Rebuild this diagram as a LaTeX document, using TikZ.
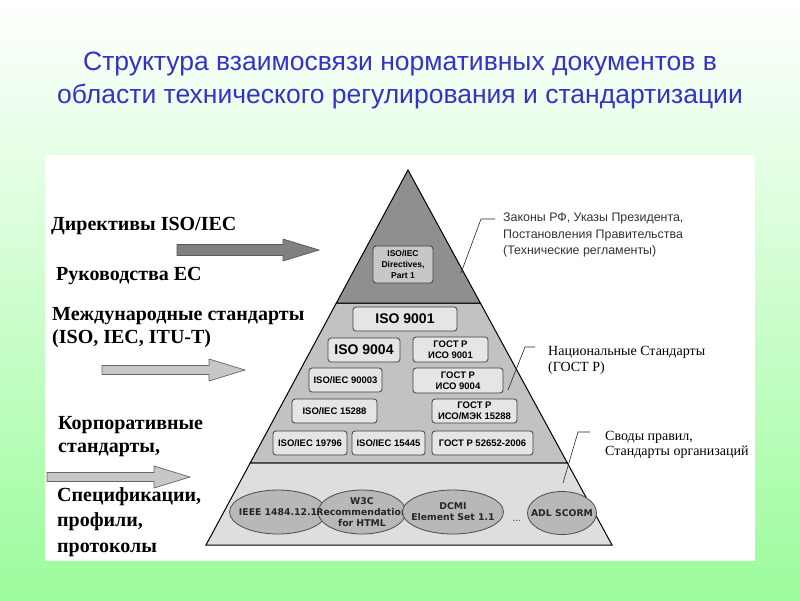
\documentclass[tikz,border=0pt]{standalone}
\usepackage{fontspec}
\setmainfont{Liberation Serif}
\newfontfamily\arialfont{Liberation Sans}
\newfontfamily\verdfont{DejaVu Sans}
\usetikzlibrary{calc,shapes.geometric}
\definecolor{titleblue}{RGB}{51,51,204}
\definecolor{bggreen}{RGB}{156,252,156}
\definecolor{topgray}{RGB}{143,143,143}
\definecolor{midgray}{RGB}{194,194,194}
\definecolor{lowgray}{RGB}{222,222,222}
\definecolor{boxgray}{RGB}{229,229,229}
\definecolor{ellgray}{RGB}{184,184,184}
\def\fatarrow[#1](#2:#3:#4:#5){\draw[#1] (#2,#4-#5) -- (#3-36,#4-#5) -- (#3-36,#4-11) -- (#3,#4) -- (#3-36,#4+11) -- (#3-36,#4+#5) -- (#2,#4+#5) -- cycle;}
\tikzset{
  stdbox/.style={draw=black!75, fill=boxgray, rounded corners=3pt, line width=0.8pt, inner sep=0pt, align=center, font=\arialfont\bfseries\fontsize{9.5}{10.5}\selectfont},
  bigbox/.style={stdbox, font=\arialfont\bfseries\fontsize{14}{16}\selectfont},
  specell/.style={ellipse, draw=black!70, fill=ellgray, line width=0.8pt, inner sep=0pt, minimum height=44pt},
  elltext/.style={inner sep=0pt, align=center, font=\verdfont\bfseries\fontsize{9.3}{11}\selectfont, text=black!85},
  sidelabel/.style={anchor=west, inner sep=0pt, align=left, font=\bfseries\fontsize{20}{23}\selectfont},
  calloutline/.style={line width=0.6pt, black!85}
}

\begin{document}
\begin{tikzpicture}[x=1pt, y=-1pt]
		%%%%% START %%%%%
		\useasboundingbox (0,0) rectangle (800,600);
		\shade[top color=white, bottom color=bggreen] (0,0) rectangle (800,600);
		\fill[white] (45,155) rectangle (755,561);
		
		\node[font=\arialfont\fontsize{26.5}{33}\selectfont, text=titleblue, align=center] (title) at (400,80) {Структура взаимосвязи нормативных документов в\\области технического регулирования и стандартизации};
		
		% pyramid
		\coordinate (apex) at (408,170);
		\coordinate (bl) at (206,545);
		\coordinate (br) at (612,545);
		\coordinate (ml1) at ($(apex)!0.355!(bl)$);
		\coordinate (mr1) at ($(apex)!0.355!(br)$);
		\coordinate (ml2) at ($(apex)!0.781!(bl)$);
		\coordinate (mr2) at ($(apex)!0.781!(br)$);
		\draw[line width=1pt, fill=lowgray] (ml2) -- (bl) -- (br) -- (mr2) -- cycle;
		\draw[line width=1pt, fill=midgray] (ml1) -- (ml2) -- (mr2) -- (mr1) -- cycle;
		\draw[line width=1pt, fill=topgray] (apex) -- (ml1) -- (mr1) -- cycle;
		
		\node[stdbox, fill=black!22, minimum width=60pt, minimum height=37pt, font=\arialfont\bfseries\fontsize{8.5}{11}\selectfont] (directives) at (403,264.5) {ISO/IEC\\Directives,\\Part 1};
		
		\node[bigbox, minimum width=104pt, minimum height=24pt] (iso9001) at (405,319) {ISO 9001};
		\node[bigbox, minimum width=72pt, minimum height=24pt] (iso9004) at (364,350) {ISO 9004};
		\node[stdbox, minimum width=75pt, minimum height=25pt] (gost9001) at (450.5,349.5) {ГОСТ Р\\ИСО 9001};
		\node[stdbox, minimum width=73pt, minimum height=24pt] (iso90003) at (345.5,380) {ISO/IEC 90003};
		\node[stdbox, minimum width=90pt, minimum height=25pt] (gost9004) at (458,380.5) {ГОСТ Р\\ИСО 9004};
		\node[stdbox, minimum width=85pt, minimum height=24pt] (iso15288) at (334.5,411) {ISO/IEC 15288};
		\node[stdbox, minimum width=85pt, minimum height=24pt] (gost15288) at (474.5,411) {ГОСТ Р\\ИСО/МЭК 15288};
		\node[stdbox, minimum width=74pt, minimum height=24pt] (iso19796) at (310,443) {ISO/IEC 19796};
		\node[stdbox, minimum width=73pt, minimum height=24pt] (iso15445) at (388.5,443) {ISO/IEC 15445};
		\node[stdbox, minimum width=101pt, minimum height=24pt] (gost52652) at (482.5,443) {ГОСТ Р 52652-2006};
		
		\node[specell, minimum width=97pt] (ieee) at (278,512) {};
		\node[elltext] (ieeetxt) at (ieee) {IEEE 1484.12.1};
		\node[specell, minimum width=88pt] (w3c) at (362,512) {};
		\node[elltext] (w3ctxt) at (w3c) {W3C\\Recommendation\\for HTML};
		\node[specell, minimum width=101pt] (dcmi) at (453,512) {};
		\node[elltext] (dcmitxt) at (dcmi) {DCMI\\Element Set 1.1};
		\node[font=\verdfont\fontsize{9}{10}\selectfont, text=black!80] (dots) at (517,521) {...};
		\node[specell, minimum width=69pt, minimum height=43pt] (adl) at (562,513) {};
		\node[elltext] (adltxt) at (adl) {ADL SCORM};
		
		% left side
		\node[sidelabel] (directivy) at (51,226) {Директивы ISO/IEC};
		\node[sidelabel] (rukovod) at (56,276) {Руководства ЕС};
		\node[sidelabel] (mezhdun) at (52,316) {Международные стандарты};
		\node[sidelabel] (isoiec) at (52,339) {(ISO, IEC, ITU-T)};
		\node[sidelabel] (korpor) at (58,437) {Корпоративные\\стандарты,};
		\node[sidelabel, font=\bfseries\fontsize{20}{25.5}\selectfont] (specif) at (57,522) {Спецификации,\\профили,\\протоколы};
		
		\fatarrow[fill=black!50, draw=black!65, line width=0.7pt](177:319:250:5.5)
		\fatarrow[fill=black!22, draw=black!60, line width=0.7pt](102:245:370:4.5)
		\fatarrow[fill=black!22, draw=black!60, line width=0.7pt](47:190:477:4.5)
		
		% callouts
		\node[anchor=north west, inner sep=0pt, align=left, text=black!80, font=\arialfont\fontsize{12.4}{16.5}\selectfont] (zakony) at (503,213) {Законы РФ, Указы Президента,\\Постановления Правительства\\(Технические регламенты)};
		\coordinate (zakpt) at (461,273);
		\coordinate (zakbend) at (481,219);
		\coordinate (zakend) at (495,219);
		\draw[calloutline] (zakpt) -- (zakbend) -- (zakend);
		
		\node[anchor=north west, inner sep=0pt, align=left, font=\fontsize{14}{16}\selectfont] (natsst) at (548,346) {Национальные Стандарты\\(ГОСТ Р)};
		\coordinate (natpt) at (508,390);
		\coordinate (natbend) at (525,347);
		\coordinate (natend) at (535,347);
		\draw[calloutline] (natpt) -- (natbend) -- (natend);
		
		\node[anchor=north west, inner sep=0pt, align=left, font=\fontsize{14}{15}\selectfont] (svody) at (605,431) {Своды правил,\\Стандарты организаций};
		\coordinate (svpt) at (563,483);
		\coordinate (svbend) at (578,432);
		\coordinate (svend) at (590,432);
		\draw[calloutline] (svpt) -- (svbend) -- (svend);
		%%%%% END %%%%%
	\end{tikzpicture}
\end{document}
